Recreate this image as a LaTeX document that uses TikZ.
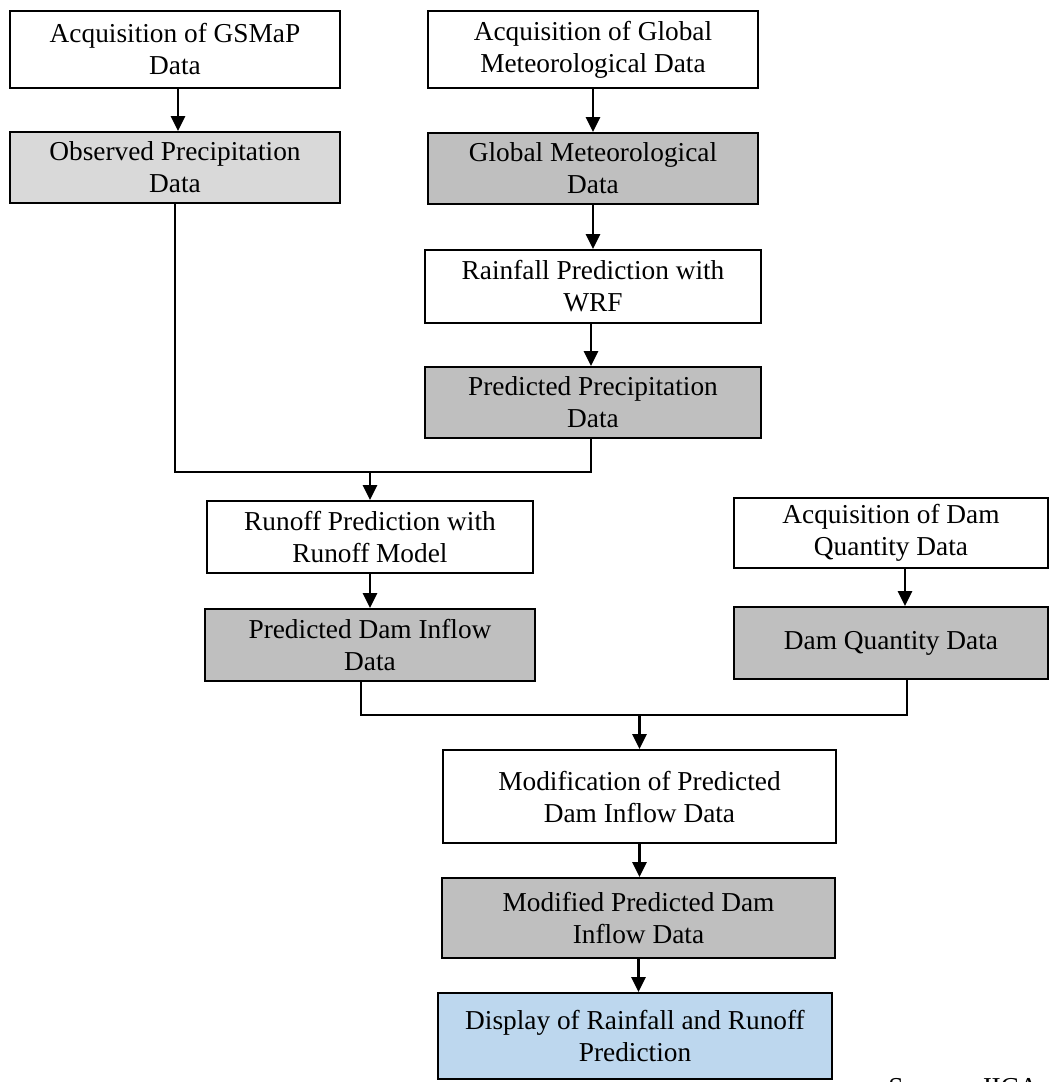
\documentclass[tikz,border=0pt]{standalone}
\usepackage{fontspec}
\setmainfont{Liberation Serif}
\usetikzlibrary{arrows.meta}
\definecolor{lightgrey}{HTML}{D9D9D9}
\definecolor{midgrey}{HTML}{BFBFBF}
\definecolor{paleblue}{HTML}{BDD7EE}
\begin{document}
\begin{tikzpicture}[x=0.75pt,y=-0.75pt,
  box/.style={draw=black, line width=1.7pt, align=center, inner sep=2pt,
    font=\fontsize{20.5}{24}\selectfont},
  plain/.style={box, fill=white},
  obs/.style={box, fill=lightgrey},
  data/.style={box, fill=midgrey},
  show/.style={box, fill=paleblue},
  link/.style={line width=1.6pt},
  arr/.style={link, -{Triangle[length=11pt, width=10.5pt]}}]
\useasboundingbox (0,0) rectangle (1057,1082);
\fill[white] (0,0) rectangle (1057,1082);

% left column: satellite precipitation
\node[plain, minimum width=247.5pt, minimum height=57.75pt] (A) at (175,49.5)
  {Acquisition of GSMaP\\Data};
\node[obs, minimum width=247.5pt, minimum height=53.25pt] (B) at (175,167.5)
  {Observed Precipitation\\Data};

% middle column: meteorological forecast
\node[plain, minimum width=247.5pt, minimum height=57.75pt] (C) at (593,49.5)
  {Acquisition of Global\\Meteorological Data};
\node[data, minimum width=247.5pt, minimum height=53.25pt] (D) at (593,168.5)
  {Global Meteorological\\Data};
\node[plain, minimum width=252pt, minimum height=54.75pt] (E) at (593,286.5)
  {Rainfall Prediction with\\WRF};
\node[data, minimum width=252pt, minimum height=53.25pt] (F) at (593,402.5)
  {Predicted Precipitation\\Data};

% runoff model
\node[plain, minimum width=244.5pt, minimum height=54pt] (G) at (370,537)
  {Runoff Prediction with\\Runoff Model};
\node[data, minimum width=247.5pt, minimum height=54pt] (H) at (370,645)
  {Predicted Dam Inflow\\Data};

% dam observations
\node[plain, minimum width=235.5pt, minimum height=52.5pt] (I) at (891,533)
  {Acquisition of Dam\\Quantity Data};
\node[data, minimum width=235.5pt, minimum height=54pt] (J) at (891,643)
  {Dam Quantity Data};

% correction and output
\node[plain, minimum width=294.75pt, minimum height=69.75pt] (K) at (639.5,796.5)
  {Modification of Predicted\\Dam Inflow Data};
\node[data, minimum width=294.75pt, minimum height=60pt] (L) at (638.5,918)
  {Modified Predicted Dam\\Inflow Data};
\node[show, minimum width=295.5pt, minimum height=64.5pt] (M) at (635,1036)
  {Display of Rainfall and Runoff\\Prediction};

% source note, running off the lower page edge
\node[anchor=north west, inner sep=0pt, font=\fontsize{20.5}{24}\selectfont] (src)
  at (888,1077) {Source: JICA study team};

% junction points
\coordinate (j1) at (370,472);
\coordinate (j2) at (639.5,715);

% connectors
\draw[arr] ([xshift=2.25pt]A.south) -- ([xshift=2.25pt]B.north);
\draw[arr] (C.south) -- (D.north);
\draw[arr] (D.south) -- (E.north);
\draw[arr] ([xshift=-1.5pt]E.south) -- ([xshift=-1.5pt]F.north);
\draw[link] (B.south) |- (j1) -| ([xshift=-1.5pt]F.south);
\draw[arr] (j1) -- (G.north);
\draw[arr] (G.south) -- (H.north);
\draw[arr] ([xshift=10.5pt]I.south) -- ([xshift=10.5pt]J.north);
\draw[link] ([xshift=-6.75pt]H.south) |- (j2) -| ([xshift=12pt]J.south);
\draw[arr] (j2) -- (K.north);
\draw[arr] (K.south) -- (K.south |- L.north);
\draw[arr] (L.south) -- (L.south |- M.north);
\end{tikzpicture}
\end{document}
